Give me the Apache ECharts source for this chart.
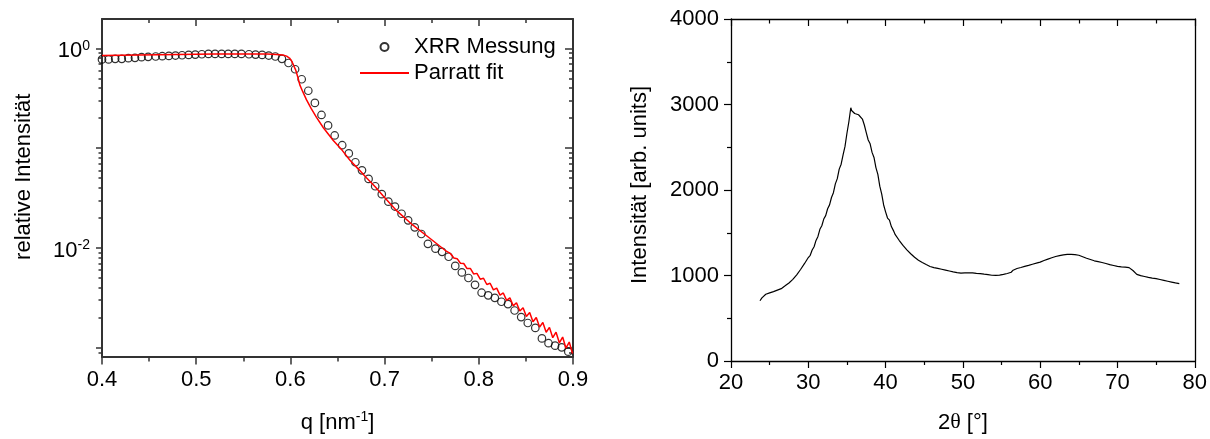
<!DOCTYPE html>
<html>
<head>
<meta charset="utf-8">
<title>XRR / XRD</title>
<script src="https://cdn.jsdelivr.net/npm/echarts/dist/echarts.min.js"></script>
<style>
    html, body { margin: 0; padding: 0; background: #fff; }
    #main { width: 1210px; height: 439px; }
</style>
</head>
<body>
<div id="main"></div>
<script>
// XRR Messung (Kreise)
var xrrQ = [0.400, 0.407, 0.414, 0.421, 0.428, 0.435, 0.442, 0.449, 0.457, 0.464,
    0.471, 0.478, 0.485, 0.492, 0.499, 0.506, 0.513, 0.520, 0.527, 0.534,
    0.541, 0.548, 0.556, 0.563, 0.570, 0.577, 0.584, 0.591, 0.598, 0.605,
    0.612, 0.619, 0.626, 0.633, 0.640, 0.647, 0.655, 0.662, 0.669, 0.676,
    0.683, 0.690, 0.697, 0.704, 0.711, 0.718, 0.725, 0.732, 0.739, 0.746,
    0.754, 0.761, 0.768, 0.775, 0.782, 0.789, 0.796, 0.803, 0.810, 0.817,
    0.824, 0.831, 0.838, 0.845, 0.852, 0.860, 0.867, 0.874, 0.881, 0.888, 0.895];
var xrrI = [0.774, 0.774, 0.785, 0.785, 0.797, 0.803, 0.816, 0.822, 0.828, 0.834,
    0.840, 0.847, 0.853, 0.860, 0.866, 0.873, 0.879, 0.879, 0.879, 0.879,
    0.879, 0.879, 0.873, 0.866, 0.860, 0.847, 0.828, 0.785, 0.713, 0.617,
    0.490, 0.376, 0.284, 0.215, 0.169, 0.134, 0.107, 0.0885, 0.0722, 0.0599,
    0.0492, 0.0415, 0.0346, 0.0291, 0.0260, 0.0220, 0.0189, 0.0161, 0.0138, 0.0110,
    0.00984, 0.00914, 0.00816, 0.00660, 0.00569, 0.00500, 0.00427, 0.00356, 0.00335, 0.00316,
    0.00289, 0.00274, 0.00236, 0.00203, 0.00177, 0.00158, 0.00124, 0.00111, 0.00105, 0.00101, 0.000914];

// Parratt fit (rote Linie)
var fitQ = [0.400, 0.420, 0.440, 0.460, 0.480, 0.500, 0.520, 0.540, 0.560, 0.575,
    0.585, 0.592, 0.596, 0.599, 0.601, 0.603, 0.6057, 0.608, 0.610, 0.613,
    0.617, 0.622, 0.6277, 0.635, 0.6453, 0.655, 0.663, 0.672, 0.6807, 0.690,
    0.6983, 0.713, 0.7301, 0.748, 0.7655,
    0.770, 0.7735, 0.777, 0.7805, 0.784, 0.7875, 0.791, 0.7945, 0.798, 0.8015,
    0.805, 0.8085, 0.812, 0.8155, 0.819, 0.8225, 0.826, 0.8295, 0.833, 0.8365,
    0.840, 0.8435, 0.847, 0.8505, 0.854, 0.8575, 0.861, 0.8645, 0.868, 0.8715,
    0.875, 0.8785, 0.882, 0.8855, 0.889, 0.8925, 0.896, 0.8995];
var fitI = [0.846, 0.852, 0.858, 0.864, 0.869, 0.874, 0.877, 0.879, 0.879, 0.876,
    0.870, 0.858, 0.835, 0.800, 0.756, 0.690, 0.603, 0.510, 0.430, 0.370,
    0.306, 0.250, 0.203, 0.160, 0.120, 0.095, 0.0762, 0.062, 0.0504, 0.041,
    0.0333, 0.0235, 0.0169, 0.0125, 0.00927,
    0.00875, 0.00793, 0.00781, 0.00702, 0.00698, 0.00621, 0.00623, 0.00549, 0.00556, 0.00486,
    0.00497, 0.00430, 0.00443, 0.00380, 0.00396, 0.00337, 0.00354, 0.00298, 0.00316, 0.00263,
    0.00282, 0.00233, 0.00252, 0.00206, 0.00225, 0.00182, 0.00201, 0.00161, 0.00179, 0.00143,
    0.00160, 0.00126, 0.00143, 0.00112, 0.00128, 0.000989, 0.00114, 0.000875];

// XRD (rechts)
var xrdTheta = [23.75, 24, 24.25, 24.5, 24.75, 25, 25.25, 25.5, 25.75, 26, 26.25, 26.5, 26.75,
    27, 27.25, 27.5, 27.75, 28, 28.25, 28.5, 28.75, 29, 29.25, 29.5, 29.75,
    30, 30.25, 30.5, 30.75, 31, 31.25, 31.5, 31.75, 32, 32.25, 32.5, 32.75,
    33, 33.25, 33.5, 33.75, 34, 34.25, 34.5, 34.75, 35, 35.25, 35.5, 35.6, 35.75,
    36, 36.25, 36.5, 36.75, 37, 37.25, 37.5, 37.75, 38, 38.25, 38.5, 38.75,
    39, 39.25, 39.5, 39.75, 40, 40.25, 40.5, 40.75, 41, 41.25, 41.5, 41.75,
    42, 42.25, 42.5, 42.75, 43, 43.25, 43.5, 43.75, 44, 44.25, 44.5, 44.75,
    45, 45.25, 45.5, 45.75, 46, 46.25, 46.5, 46.75, 47, 47.25, 47.5, 47.75,
    48, 48.25, 48.5, 48.75, 49, 49.25, 49.5, 49.75, 50, 50.25, 50.5, 50.75,
    51, 51.25, 51.5, 51.75, 52, 52.25, 52.5, 52.75, 53, 53.25, 53.5, 53.75,
    54, 54.25, 54.5, 54.75, 55, 55.25, 55.5, 55.75, 56, 56.25, 56.5, 56.75,
    57, 57.25, 57.5, 57.75, 58, 58.25, 58.5, 58.75, 59, 59.25, 59.5, 59.75,
    60, 60.25, 60.5, 60.75, 61, 61.25, 61.5, 61.75, 62, 62.25, 62.5, 62.75,
    63, 63.25, 63.5, 63.75, 64, 64.25, 64.5, 64.75, 65, 65.25, 65.5, 65.75,
    66, 66.25, 66.5, 66.75, 67, 67.25, 67.5, 67.75, 68, 68.25, 68.5, 68.75,
    69, 69.25, 69.5, 69.75, 70, 70.25, 70.5, 70.75, 71, 71.25, 71.5, 71.75,
    72, 72.25, 72.5, 72.75, 73, 73.25, 73.5, 73.75, 74, 74.25, 74.5, 74.75,
    75, 75.25, 75.5, 75.75, 76, 76.25, 76.5, 76.75, 77, 77.25, 77.5, 77.75, 78];
var xrdCounts = [705, 738, 742, 781, 772, 797, 788, 812, 806, 829, 822, 846, 848,
    879, 880, 913, 918, 955, 965, 1008, 1022, 1070, 1087, 1138, 1158,
    1210, 1236, 1298, 1336, 1410, 1457, 1540, 1582, 1660, 1700, 1781, 1826,
    1912, 1968, 2072, 2133, 2244, 2302, 2412, 2510, 2664, 2798, 2962, 2930, 2945,
    2895, 2912, 2880, 2895, 2830, 2760, 2672, 2585, 2540, 2440, 2381, 2262,
    2182, 2045, 1952, 1825, 1745, 1672, 1648, 1572, 1528, 1478, 1458, 1412,
    1398, 1352, 1338, 1299, 1293, 1255, 1248, 1213, 1208, 1178, 1177, 1152,
    1158, 1128, 1127, 1105, 1112, 1093, 1102, 1083, 1092, 1073, 1082, 1063,
    1072, 1053, 1062, 1043, 1052, 1034, 1044, 1028, 1042, 1030, 1045, 1032,
    1047, 1030, 1042, 1025, 1037, 1021, 1032, 1015, 1027, 1010, 1020, 1003,
    1015, 1001, 1017, 1005, 1022, 1013, 1033, 1023, 1042, 1038, 1062, 1058,
    1082, 1074, 1094, 1087, 1107, 1099, 1119, 1112, 1132, 1124, 1144, 1137,
    1157, 1152, 1175, 1169, 1192, 1186, 1207, 1201, 1222, 1213, 1232, 1223,
    1242, 1230, 1246, 1233, 1247, 1232, 1244, 1226, 1237, 1215, 1220, 1197,
    1202, 1181, 1187, 1165, 1172, 1153, 1162, 1143, 1152, 1132, 1140, 1119,
    1127, 1108, 1117, 1098, 1107, 1090, 1101, 1085, 1097, 1081, 1092, 1090,
    1058, 1047, 1013, 1017, 998, 1007, 988, 997, 978, 988, 970, 981,
    963, 972, 953, 962, 943, 952, 933, 942, 923, 932, 913, 922, 905];

// Log-Achse: Haupt- und Nebenstriche, beschriftete Dekaden
var logMajor = [0.001, 0.01, 0.1, 1];
var logMinor = [0.0009, 0.002, 0.003, 0.004, 0.005, 0.006, 0.007, 0.008, 0.009,
    0.02, 0.03, 0.04, 0.05, 0.06, 0.07, 0.08, 0.09,
    0.2, 0.3, 0.4, 0.5, 0.6, 0.7, 0.8, 0.9];
var logLabels = [0.01, 1];

var FONT = 'Liberation Sans';
var FS = 22;
var LEFT_AX = '#333';
var RIGHT_AX = '#000';

function zip(a, b) {
    return a.map(function (v, i) { return [v, b[i]]; });
}

var supRich = {
    b: { fontFamily: FONT, fontSize: FS, color: '#000', lineHeight: 25 },
    s: { fontFamily: FONT, fontSize: 14, color: '#000', verticalAlign: 'top', lineHeight: 14 },
    t: { fontFamily: 'Liberation Serif', fontSize: FS, color: '#000', lineHeight: 25 }
};

function lineStyleOf(color, width) {
    return { color: color, width: width };
}

var myChart = echarts.init(document.getElementById('main'), null, { renderer: 'canvas' });

var option = {
    animation: false,
    backgroundColor: '#fff',
    textStyle: { fontFamily: FONT },
    grid: [
        { left: 102, top: 19, width: 471, height: 345 },
        { left: 731, top: 19, width: 465, height: 342 }
    ],
    legend: {
        orient: 'vertical',
        left: 359,
        top: 36,
        padding: 0,
        itemWidth: 49,
        itemHeight: 8,
        itemGap: 4,
        textStyle: { fontFamily: FONT, fontSize: FS, color: '#000' },
        data: [
            { name: 'XRR Messung' },
            { name: 'Parratt fit', itemStyle: { opacity: 0 } }
        ]
    },
    xAxis: [
        {
            // q unten
            gridIndex: 0, type: 'value', position: 'bottom',
            min: 0.4, max: 0.9, interval: 0.1,
            name: '{b|q [nm}{s|-1}{b|]}',
            nameLocation: 'middle', nameGap: 54,
            nameTextStyle: { rich: supRich },
            axisLine: { onZero: false, lineStyle: lineStyleOf(LEFT_AX, 2) },
            axisTick: { inside: false, length: 8, lineStyle: lineStyleOf(LEFT_AX, 1.5) },
            minorTick: { show: true, splitNumber: 2, length: 5, lineStyle: lineStyleOf(LEFT_AX, 1.5) },
            axisLabel: { margin: 12, fontFamily: FONT, fontSize: FS, color: '#000',
                formatter: function (v) { return v.toFixed(1); } },
            splitLine: { show: false }
        },
        {
            // q oben (Spiegel)
            gridIndex: 0, type: 'value', position: 'top',
            min: 0.4, max: 0.9, interval: 0.1,
            axisLine: { onZero: false, lineStyle: lineStyleOf(LEFT_AX, 2) },
            axisTick: { inside: true, length: 7, lineStyle: lineStyleOf(LEFT_AX, 1.5) },
            minorTick: { show: true, splitNumber: 2, length: 4, lineStyle: lineStyleOf(LEFT_AX, 1.5) },
            axisLabel: { show: false },
            splitLine: { show: false }
        },
        {
            // 2theta unten
            gridIndex: 1, type: 'value', position: 'bottom',
            min: 20, max: 80, interval: 10,
            name: '{b|2}{t|θ}{b| [°]}',
            nameLocation: 'middle', nameGap: 49,
            nameTextStyle: { rich: supRich },
            axisLine: { onZero: false, lineStyle: lineStyleOf(RIGHT_AX, 1.3) },
            axisTick: { inside: false, length: 7, lineStyle: lineStyleOf(RIGHT_AX, 1.2) },
            minorTick: { show: true, splitNumber: 2, length: 4, lineStyle: lineStyleOf(RIGHT_AX, 1.2) },
            axisLabel: { margin: 11, fontFamily: FONT, fontSize: FS, color: '#000' },
            splitLine: { show: false }
        },
        {
            // 2theta oben (Spiegel)
            gridIndex: 1, type: 'value', position: 'top',
            min: 20, max: 80, interval: 10,
            axisLine: { onZero: false, lineStyle: lineStyleOf(RIGHT_AX, 1.3) },
            axisTick: { inside: true, length: 7, lineStyle: lineStyleOf(RIGHT_AX, 1.2) },
            minorTick: { show: true, splitNumber: 2, length: 4.5, lineStyle: lineStyleOf(RIGHT_AX, 1.2) },
            axisLabel: { show: false },
            splitLine: { show: false }
        }
    ],
    yAxis: [
        {
            // log links, Hauptstriche + Beschriftung
            gridIndex: 0, type: 'log', logBase: 10, position: 'left',
            min: 0.000817, max: 1.968,
            name: 'relative Intensität',
            nameLocation: 'middle', nameGap: 67,
            nameTextStyle: { fontFamily: FONT, fontSize: FS, color: '#000', padding: [0, 0, 0, 22] },
            axisLine: { onZero: false, lineStyle: lineStyleOf(LEFT_AX, 2) },
            axisTick: { inside: false, length: 6, customValues: logMajor, lineStyle: lineStyleOf(LEFT_AX, 1.5) },
            axisLabel: {
                margin: 12, customValues: logLabels, rich: supRich, padding: [6, 0, 0, 0],
                formatter: function (v) {
                    var e = Math.round(Math.log(v) / Math.LN10);
                    return '{b|10}{s|' + e + '}';
                }
            },
            splitLine: { show: false }
        },
        {
            // log links, Nebenstriche
            gridIndex: 0, type: 'log', logBase: 10, position: 'left',
            min: 0.000817, max: 1.968,
            axisLine: { show: false },
            axisTick: { inside: false, length: 3.5, customValues: logMinor, lineStyle: lineStyleOf(LEFT_AX, 1.5) },
            axisLabel: { show: false },
            splitLine: { show: false }
        },
        {
            // log rechts (Spiegel), Hauptstriche
            gridIndex: 0, type: 'log', logBase: 10, position: 'right',
            min: 0.000817, max: 1.968,
            axisLine: { onZero: false, lineStyle: lineStyleOf(LEFT_AX, 2) },
            axisTick: { inside: true, length: 8, customValues: logMajor, lineStyle: lineStyleOf(LEFT_AX, 1.5) },
            axisLabel: { show: false },
            splitLine: { show: false }
        },
        {
            // log rechts, Nebenstriche
            gridIndex: 0, type: 'log', logBase: 10, position: 'right',
            min: 0.000817, max: 1.968,
            axisLine: { show: false },
            axisTick: { inside: true, length: 4, customValues: logMinor, lineStyle: lineStyleOf(LEFT_AX, 1.5) },
            axisLabel: { show: false },
            splitLine: { show: false }
        },
        {
            // Intensitaet links
            gridIndex: 1, type: 'value', position: 'left',
            min: 0, max: 4000, interval: 1000,
            name: 'Intensität [arb. units]',
            nameLocation: 'middle', nameGap: 80,
            nameTextStyle: { fontFamily: FONT, fontSize: FS, color: '#000', padding: [0, 0, 0, 10] },
            axisLine: { onZero: false, lineStyle: lineStyleOf(RIGHT_AX, 1.3) },
            axisTick: { inside: false, length: 7, lineStyle: lineStyleOf(RIGHT_AX, 1.2) },
            minorTick: { show: true, splitNumber: 2, length: 4, lineStyle: lineStyleOf(RIGHT_AX, 1.2) },
            axisLabel: { margin: 12, fontFamily: FONT, fontSize: FS, color: '#000',
                formatter: function (v) { return String(v); } },
            splitLine: { show: false }
        },
        {
            // rechter Rahmen
            gridIndex: 1, type: 'value', position: 'right',
            min: 0, max: 4000, interval: 1000,
            axisLine: { onZero: false, lineStyle: lineStyleOf(RIGHT_AX, 1.3) },
            axisTick: { show: false },
            axisLabel: { show: false },
            splitLine: { show: false }
        }
    ],
    series: [
        {
            name: 'XRR Messung',
            type: 'scatter',
            xAxisIndex: 0, yAxisIndex: 0,
            symbol: 'circle',
            symbolSize: 7.5,
            itemStyle: { color: 'rgba(255,255,255,0)', borderColor: '#000', borderWidth: 1.2 },
            data: zip(xrrQ, xrrI)
        },
        {
            name: 'Parratt fit',
            type: 'line',
            xAxisIndex: 0, yAxisIndex: 0,
            symbol: 'none',
            lineStyle: { color: '#ff0000', width: 1.5 },
            itemStyle: { color: '#ff0000' },
            data: zip(fitQ, fitI)
        },
        {
            name: 'XRD',
            type: 'line',
            xAxisIndex: 2, yAxisIndex: 4,
            symbol: 'none',
            lineStyle: { color: '#000', width: 1.2 },
            data: zip(xrdTheta, xrdCounts)
        }
    ]
};

myChart.setOption(option);
</script>
</body>
</html>
